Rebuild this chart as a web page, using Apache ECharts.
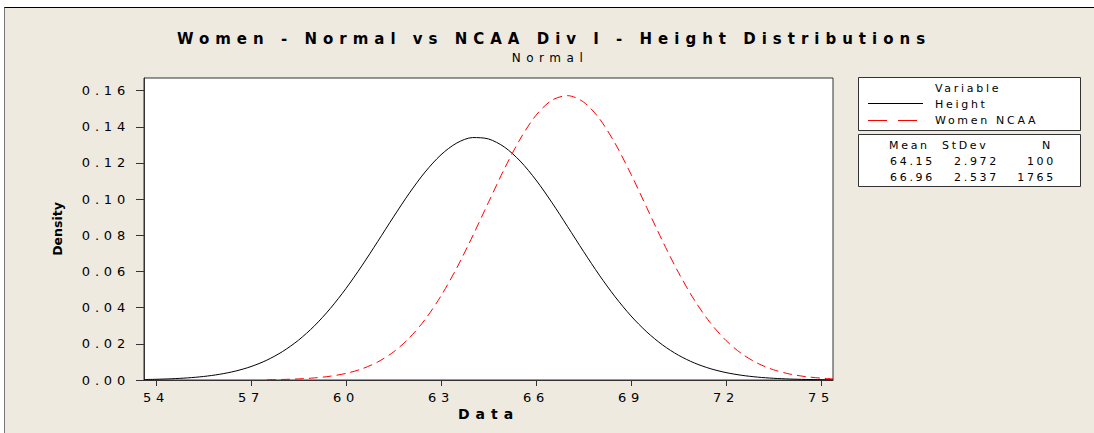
<!DOCTYPE html>
<html>
<head>
    <title>Women - Normal vs NCAA Div I - Height Distributions</title>
    <script src="https://cdn.jsdelivr.net/npm/echarts@6.0.0/dist/echarts.min.js"></script>
    <style>
        html, body { margin: 0; padding: 0; background: #fff; }
        /* Minitab spaces its letters out, the svg renderer lets css do that */
        #main text[style*="15px"] { letter-spacing: 6px; }
        #main text[style*="12px"] { letter-spacing: 5.5px; }
        #main text[style*="13px"] { letter-spacing: 4.8px; }
        #main text[style*="14px"] { letter-spacing: 6px; }
        #main text[style*="11px"] { letter-spacing: 2.7px; }
    </style>
</head>
<body>
    <div id="main" style="width: 1094px; height: 433px;"></div>

    <script>
        const titleText = 'Women - Normal vs NCAA Div I - Height Distributions';
        const subTitleText = 'Normal';

        const xTicks = [54, 57, 60, 63, 66, 69, 72, 75];
        const yTicks = [0, 0.02, 0.04, 0.06, 0.08, 0.10, 0.12, 0.14, 0.16];

        // fitted normal curve, Height
        const heightX = [53.62, 54, 54.5, 55, 55.5, 56, 56.5, 57, 57.5, 58, 58.5, 59, 59.5, 60, 60.5,
            61, 61.5, 62, 62.5, 63, 63.5, 64, 64.5, 65, 65.5, 66, 66.5, 67, 67.5, 68, 68.5,
            69, 69.5, 70, 70.5, 71, 71.5, 72, 72.5, 73, 73.5, 74, 74.5, 75, 75.38];
        const heightY = [0.00025, 0.00039, 0.00069, 0.00117, 0.00194, 0.00313, 0.00489, 0.00743, 0.01098, 0.01578, 0.02203, 0.02991, 0.03947, 0.05063, 0.06314,
            0.07654, 0.09020, 0.10332, 0.11506, 0.12455, 0.13106, 0.13406, 0.13330, 0.12885, 0.12107, 0.11059, 0.09820, 0.08476, 0.07111, 0.05800, 0.04599,
            0.03544, 0.02656, 0.01934, 0.01370, 0.00943, 0.00631, 0.00410, 0.00259, 0.00159, 0.00095, 0.00055, 0.00031, 0.00017, 0.00011];

        // fitted normal curve, Women NCAA
        const ncaaX = [57.5, 58, 58.5, 59, 59.5, 60, 60.5, 61, 61.5, 62, 62.5, 63, 63.5, 64, 64.5,
            65, 65.5, 66, 66.5, 67, 67.5, 68, 68.5, 69, 69.5, 70, 70.5, 71, 71.5, 72, 72.5,
            73, 73.5, 74, 74.5, 75, 75.38];
        const ncaaY = [0.00015, 0.00031, 0.00061, 0.00115, 0.00209, 0.00365, 0.00615, 0.00996, 0.01552, 0.02326, 0.03354, 0.04651, 0.06204, 0.07962, 0.09827,
            0.11668, 0.13325, 0.14639, 0.15469, 0.15723, 0.15373, 0.14458, 0.13079, 0.11381, 0.09526, 0.07670, 0.05940, 0.04425, 0.03171, 0.02185, 0.01449,
            0.00924, 0.00567, 0.00335, 0.00190, 0.00104, 0.00064];

        const seriesNames = ['Height', 'Women NCAA'];
        const means = ['64.15', '66.96'];
        const stdevs = ['2.972', '2.537'];
        const counts = ['100', '1765'];

        const FONT = 'DejaVu Sans';
        const BG = '#eeeae0';
        const small = '11px "' + FONT + '"';

        function label(x, y, text, align) {
            return { type: 'text', x: x, y: y, style: { text: text, font: small, fill: '#000', verticalAlign: 'middle', align: align || 'left' } };
        }

        const graphics = [
            // white strips and frame lines round the panel
            { type: 'rect', shape: { x: 0, y: 0, width: 1094, height: 7 }, style: { fill: '#fff' } },
            { type: 'rect', shape: { x: 0, y: 0, width: 4, height: 433 }, style: { fill: '#fff' } },
            { type: 'line', shape: { x1: 4, y1: 7.5, x2: 1094, y2: 7.5 }, style: { stroke: '#000', lineWidth: 1 } },
            { type: 'line', shape: { x1: 4.5, y1: 7.5, x2: 4.5, y2: 433 }, style: { stroke: '#777', lineWidth: 1 } },
            // title and subtitle
            { type: 'text', x: 554, y: 39, style: { text: titleText, font: 'bold 15px "' + FONT + '"', fill: '#000', align: 'center', verticalAlign: 'middle' } },
            { type: 'text', x: 550, y: 58, style: { text: subTitleText, font: '12px "' + FONT + '"', fill: '#000', align: 'center', verticalAlign: 'middle' } },
            // legend boxes
            { type: 'rect', shape: { x: 858.5, y: 77.5, width: 222, height: 53 }, style: { fill: '#fff', stroke: '#333', lineWidth: 1 } },
            { type: 'rect', shape: { x: 858.5, y: 134.5, width: 222, height: 52 }, style: { fill: '#fff', stroke: '#333', lineWidth: 1 } },
            { type: 'line', shape: { x1: 868, y1: 103.5, x2: 923, y2: 103.5 }, style: { stroke: '#000', lineWidth: 1 } },
            { type: 'line', shape: { x1: 868, y1: 120.5, x2: 923, y2: 120.5 }, style: { stroke: '#ff0000', lineWidth: 1, lineDash: [19, 11] } },
            label(935, 88, 'Variable'),
            label(935, 104, seriesNames[0]),
            label(935, 120, seriesNames[1]),
            label(889, 145, 'Mean'),
            label(942, 145, 'StDev'),
            label(1053, 145, 'N', 'right')
        ];
        [0, 1].forEach(i => {
            const y = 161 + i * 16;
            graphics.push(label(890, y, means[i]), label(954, y, stdevs[i]), label(1056, y, counts[i], 'right'));
        });

        const option = {
            animation: false,
            backgroundColor: BG,
            grid: {
                left: 144, top: 78, width: 689, height: 302,
                outerBoundsMode: 'none',
                show: true, backgroundColor: '#fff', borderColor: '#333', borderWidth: 1
            },
            xAxis: {
                type: 'value',
                min: 53.62,
                max: 75.38,
                name: 'Data',
                nameLocation: 'middle',
                nameGap: 19,
                nameMoveOverlap: false,
                nameTextStyle: { fontFamily: FONT, fontSize: 14, fontWeight: 'bold', color: '#000' },
                axisLine: { lineStyle: { color: '#333' } },
                axisTick: { length: 6, customValues: xTicks, lineStyle: { color: '#333' } },
                axisLabel: {
                    customValues: xTicks, margin: 5,
                    fontFamily: FONT, fontSize: 13, color: '#000'
                },
                splitLine: { show: false }
            },
            yAxis: {
                type: 'value',
                min: 0,
                max: 0.167,
                name: 'Density',
                nameLocation: 'middle',
                nameRotate: 90,
                nameGap: 73,
                nameMoveOverlap: false,
                nameTextStyle: { fontFamily: FONT, fontSize: 12.5, fontWeight: 'bold', color: '#000' },
                axisLine: { show: true, lineStyle: { color: '#333' } },
                axisTick: { show: true, length: 8, customValues: yTicks, lineStyle: { color: '#333' } },
                axisLabel: {
                    customValues: yTicks, margin: 14,
                    formatter: v => v.toFixed(2),
                    fontFamily: FONT, fontSize: 13, color: '#000'
                },
                splitLine: { show: false }
            },
            graphic: graphics,
            series: [
                {
                    name: seriesNames[0],
                    type: 'line',
                    data: heightX.map((x, i) => [x, heightY[i]]),
                    smooth: 0.3,
                    showSymbol: false,
                    lineStyle: { color: '#000', width: 1 }
                },
                {
                    name: seriesNames[1],
                    type: 'line',
                    data: ncaaX.map((x, i) => [x, ncaaY[i]]),
                    smooth: 0.3,
                    showSymbol: false,
                    lineStyle: { color: '#ff0000', width: 1, type: [9, 5] }
                }
            ]
        };

        const chart = echarts.init(document.getElementById('main'), null, { renderer: 'svg' });
        chart.setOption(option);
    </script>
</body>
</html>
